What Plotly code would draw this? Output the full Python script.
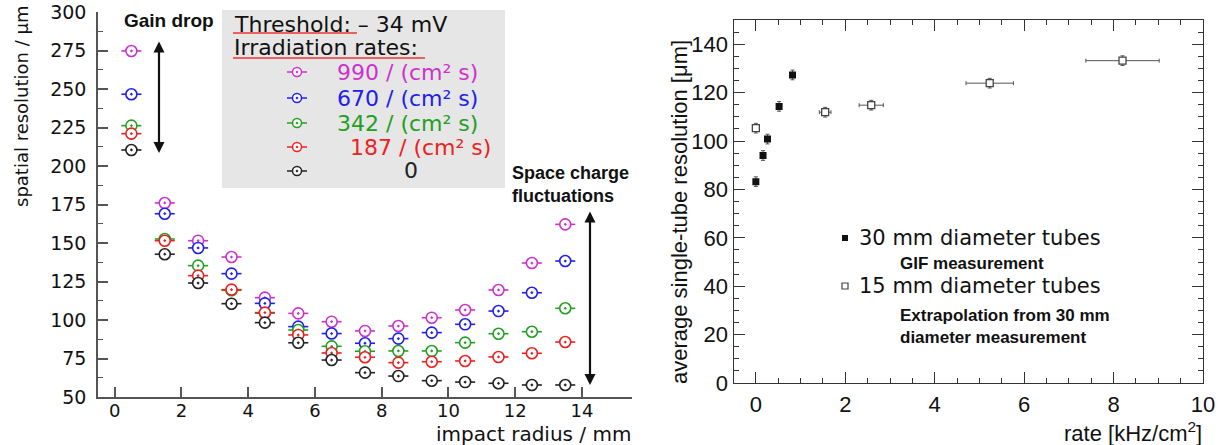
import plotly.graph_objects as go

W, H = 1226, 445

# ---------------- data: left panel ----------------
radius_mm = [0.5, 1.5, 2.5, 3.5, 4.5, 5.5, 6.5, 7.5, 8.5, 9.5, 10.5, 11.5, 12.5, 13.5]
res_990 = [274.7, 176.0, 151.5, 140.9, 114.5, 104.3, 98.9, 92.9, 96.1, 101.5, 106.5, 119.5, 137.0, 162.1]
res_670 = [246.6, 169.0, 146.8, 130.1, 110.8, 95.7, 91.2, 84.9, 87.9, 91.8, 97.2, 105.8, 117.7, 138.3]
res_342 = [226.2, 152.6, 135.3, 119.3, 104.5, 93.5, 82.9, 79.7, 79.9, 79.9, 85.3, 91.1, 92.4, 107.6]
res_187 = [221.0, 151.5, 128.8, 119.7, 104.8, 90.3, 78.6, 75.8, 72.3, 72.9, 73.4, 76.0, 78.4, 85.7]
res_0 = [210.4, 142.7, 124.0, 110.6, 98.3, 85.2, 74.0, 65.8, 63.6, 60.6, 59.7, 58.9, 57.8, 57.8]
rate_labels = ["990 / (cm² s)", "670 / (cm² s)", "342 / (cm² s)", "187 / (cm² s)", "0"]
rate_colors = ["#cc33cc", "#2020ee", "#22a022", "#ee2020", "#222222"]
radius_err = 0.3

# ---------------- data: right panel ----------------
gif_rate = [0.0, 0.16, 0.26, 0.52, 0.82]
gif_res = [83.2, 94.0, 100.8, 114.3, 127.3]
ext_rate = [0.0, 1.55, 2.58, 5.23, 8.2]
ext_res = [105.3, 111.9, 114.8, 123.9, 133.2]
ext_rate_err = [0.0, 0.13, 0.27, 0.53, 0.82]
res_err = 2.0

fig = go.Figure()

# left panel series
for vals, name, col in zip([res_990, res_670, res_342, res_187, res_0], rate_labels, rate_colors):
    fig.add_trace(go.Scatter(
        x=radius_mm, y=vals, mode="markers", name=name,
        marker=dict(symbol="circle-dot", size=11, color="white", line=dict(width=1.6, color=col)),
        error_x=dict(type="constant", value=radius_err, color=col, thickness=1.6, width=0),
        xaxis="x", yaxis="y", showlegend=False, cliponaxis=False))

# right panel series
fig.add_trace(go.Scatter(
    x=gif_rate, y=gif_res, mode="markers", name="30 mm diameter tubes",
    marker=dict(symbol="square", size=7, color="#111111"),
    error_y=dict(type="constant", value=res_err, color="#555555", thickness=1, width=2),
    xaxis="x2", yaxis="y2", showlegend=False))
fig.add_trace(go.Scatter(
    x=ext_rate, y=ext_res, mode="markers", name="15 mm diameter tubes",
    marker=dict(symbol="square", size=7, color="white", line=dict(width=1.3, color="#444444")),
    error_y=dict(type="constant", value=res_err, color="#555555", thickness=1, width=2),
    error_x=dict(type="data", array=ext_rate_err, color="#555555", thickness=1, width=2),
    xaxis="x2", yaxis="y2", showlegend=False))

# legend markers on a hidden pixel overlay axis
leg_rows_y = [72, 98, 123, 147, 171]
for yy, col in zip(leg_rows_y, rate_colors):
    fig.add_trace(go.Scatter(
        x=[297], y=[yy], mode="markers",
        marker=dict(symbol="circle-dot", size=9, color="white", line=dict(width=1.5, color=col)),
        error_x=dict(type="constant", value=10, color=col, thickness=1.5, width=0),
        xaxis="x3", yaxis="y3", showlegend=False, hoverinfo="skip"))
fig.add_trace(go.Scatter(x=[845], y=[238], mode="markers",
                         marker=dict(symbol="square", size=6, color="#111111"),
                         xaxis="x3", yaxis="y3", showlegend=False, hoverinfo="skip"))
fig.add_trace(go.Scatter(x=[845], y=[286], mode="markers",
                         marker=dict(symbol="square", size=6, color="white", line=dict(width=1.2, color="#444444")),
                         xaxis="x3", yaxis="y3", showlegend=False, hoverinfo="skip"))


def px(x):
    return x / W


def py(y):
    return 1 - y / H


ann = []
shapes = []

# left legend box
shapes.append(dict(type="rect", xref="paper", yref="paper", x0=px(222), x1=px(505), y0=py(188), y1=py(10),
                   fillcolor="#e6e6e6", line=dict(width=0), layer="below"))
shapes.append(dict(type="line", xref="paper", yref="paper", x0=px(233), x1=px(357), y0=py(33), y1=py(33),
                   line=dict(color="#ee3333", width=1.5)))
shapes.append(dict(type="line", xref="paper", yref="paper", x0=px(233), x1=px(425), y0=py(58), y1=py(58),
                   line=dict(color="#ee3333", width=1.5)))

LFONT = "DejaVu Sans, sans-serif"
AFONT = "Liberation Sans, Arial, sans-serif"

ann.append(dict(text="Threshold: – 34 mV", x=px(232), y=py(24), xref="paper", yref="paper",
                xanchor="left", yanchor="middle", showarrow=False, font=dict(family=LFONT, size=22, color="#111")))
ann.append(dict(text="Irradiation rates:", x=px(232), y=py(48), xref="paper", yref="paper",
                xanchor="left", yanchor="middle", showarrow=False, font=dict(family=LFONT, size=22, color="#111")))
leg_text_x = [335, 335, 335, 348, 402]
for yy, col, lab, tx in zip(leg_rows_y, rate_colors, rate_labels, leg_text_x):
    ann.append(dict(text=lab, x=px(tx), y=py(yy), xref="paper", yref="paper",
                    xanchor="left", yanchor="middle", showarrow=False,
                    font=dict(family=LFONT, size=22, color=col)))

ann.append(dict(text="<b>Gain drop</b>", x=px(122), y=py(21), xref="paper", yref="paper",
                xanchor="left", yanchor="middle", showarrow=False, font=dict(family=AFONT, size=19, color="#111")))
ann.append(dict(text="<b>Space charge<br>fluctuations</b>", x=px(510), y=py(184), xref="paper", yref="paper",
                xanchor="left", yanchor="middle", align="left", showarrow=False,
                font=dict(family=AFONT, size=18, color="#111")))

# double arrows (pixel overlay axis)
for xx, y0, y1 in [(159, 40, 153), (590, 210, 385)]:
    ann.append(dict(text="", x=xx, y=y1, xref="x3", yref="y3",
                    ax=xx, ay=y0, axref="x3", ayref="y3",
                    showarrow=True, arrowhead=2, arrowsize=1, arrowwidth=2.2, arrowside="end+start",
                    arrowcolor="#111"))

# left axis titles
ann.append(dict(text="spatial resolution / μm", x=px(21), y=py(106), xref="paper", yref="paper",
                textangle=-90, xanchor="center", yanchor="middle", showarrow=False,
                font=dict(family=LFONT, size=18, color="#111")))
ann.append(dict(text="impact radius / mm", x=px(633), y=py(434), xref="paper", yref="paper",
                xanchor="right", yanchor="middle", showarrow=False,
                font=dict(family=LFONT, size=20, color="#111")))

# right legend text
ann.append(dict(text="30 mm diameter tubes", x=px(857), y=py(238), xref="paper", yref="paper",
                xanchor="left", yanchor="middle", showarrow=False, font=dict(family=LFONT, size=21, color="#111")))
ann.append(dict(text="<b>GIF measurement</b>", x=px(898), y=py(263), xref="paper", yref="paper",
                xanchor="left", yanchor="middle", showarrow=False, font=dict(family=AFONT, size=17, color="#111")))
ann.append(dict(text="15 mm diameter tubes", x=px(857), y=py(286), xref="paper", yref="paper",
                xanchor="left", yanchor="middle", showarrow=False, font=dict(family=LFONT, size=21, color="#111")))
ann.append(dict(text="<b>Extrapolation from 30 mm<br>diameter measurement</b>", x=px(898), y=py(326),
                xref="paper", yref="paper", xanchor="left", yanchor="middle", align="left", showarrow=False,
                font=dict(family=AFONT, size=17, color="#111")))

# right axis titles
ann.append(dict(text="average single-tube resolution [μm]", x=px(679), y=py(212), xref="paper", yref="paper",
                textangle=-90, xanchor="center", yanchor="middle", showarrow=False,
                font=dict(family=AFONT, size=22, color="#111")))
ann.append(dict(text="rate [kHz/cm<sup>2</sup>]", x=px(1204), y=py(432), xref="paper", yref="paper",
                xanchor="right", yanchor="middle", showarrow=False,
                font=dict(family=AFONT, size=22, color="#111")))

axis_gray = "#555555"
fig.update_layout(
    template="none",
    width=W, height=H, autosize=False,
    margin=dict(l=0, r=0, t=0, b=0, pad=0, autoexpand=False),
    paper_bgcolor="white", plot_bgcolor="rgba(0,0,0,0)",
    showlegend=False,
    xaxis=dict(domain=[px(98), px(632)], range=[-0.5, 15.5], anchor="y", automargin=False,
               showline=True, linecolor=axis_gray, linewidth=1.5, showgrid=False, zeroline=False,
               ticks="inside", ticklen=10, tickwidth=1.5, tickcolor=axis_gray,
               tickvals=[0, 2, 4, 6, 8, 10, 12, 14], ticklabelstandoff=-3,
               tickfont=dict(family=LFONT, size=18, color="#111")),
    yaxis=dict(domain=[py(397), py(12)], range=[50, 300], anchor="x", automargin=False,
               showline=True, linecolor=axis_gray, linewidth=1.5, showgrid=False, zeroline=False,
               ticks="inside", ticklen=10, tickwidth=1.5, tickcolor=axis_gray, dtick=25, tick0=0,
               minor=dict(ticks="inside", ticklen=5, dtick=12.5, tick0=0, tickcolor=axis_gray, tickwidth=1.2),
               ticklabelstandoff=6,
               tickfont=dict(family=LFONT, size=19, color="#111")),
    xaxis2=dict(domain=[px(733.5), px(1203)], range=[-0.5, 10], anchor="y2", automargin=False,
                showline=True, mirror="allticks", linecolor="#333", linewidth=1.2, showgrid=False, zeroline=False,
                ticks="inside", ticklen=11, tickwidth=1, tickcolor="#333", dtick=2, tick0=0,
                minor=dict(ticks="inside", ticklen=5, dtick=0.5, tick0=0, tickcolor="#333"),
                ticklabelstandoff=1,
                tickfont=dict(family=AFONT, size=22, color="#111")),
    yaxis2=dict(domain=[py(383), py(20)], range=[0, 150], anchor="x2", automargin=False,
                showline=True, mirror="allticks", linecolor="#333", linewidth=1.2, showgrid=False, zeroline=False,
                ticks="inside", ticklen=11, tickwidth=1, tickcolor="#333", dtick=20, tick0=0,
                minor=dict(ticks="inside", ticklen=5, dtick=5, tick0=0, tickcolor="#333"),
                tickfont=dict(family=AFONT, size=22, color="#111")),
    xaxis3=dict(domain=[0, 1], range=[0, W], anchor="y3", visible=False, fixedrange=True, automargin=False),
    yaxis3=dict(domain=[0, 1], range=[H, 0], anchor="x3", visible=False, fixedrange=True, automargin=False),
    annotations=ann, shapes=shapes,
)

fig.write_html("out.html", config={"displayModeBar": False},
               post_script="document.body.style.margin='0';")
